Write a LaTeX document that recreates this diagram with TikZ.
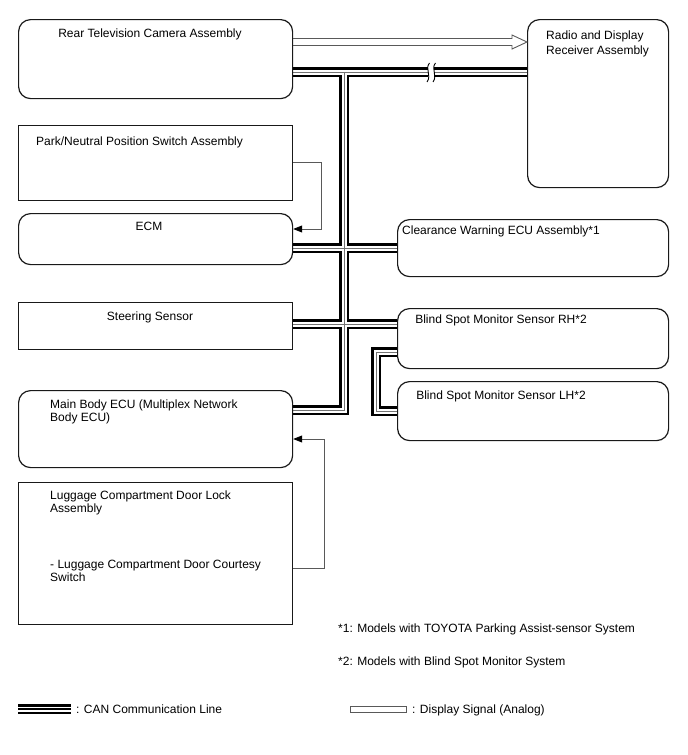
\documentclass[tikz,border=0pt]{standalone}
\usepackage{fontspec}
\setmainfont{Liberation Sans}
\usetikzlibrary{arrows.meta,calc,backgrounds}
\begin{document}
\begin{tikzpicture}[x=1pt,y=-1pt,
  box/.style={draw=black!90, line width=1.2pt, inner sep=0pt, anchor=north west},
  rbox/.style={box, rounded corners=12pt},
  lbl/.style={inner sep=0pt, font=\fontsize{12}{13.5}\selectfont, align=left},
  canA/.style={line width=10pt, black},
  canB/.style={line width=5pt, white},
  canC/.style={line width=1pt, black!55},
  sig/.style={draw=black!65, line width=0.9pt, -{Triangle[length=9pt,width=7pt,color=black]}},
  disp/.style={draw=black!65, line width=0.9pt, line join=miter}
]
\useasboundingbox (0,0) rectangle (688,755);

% boxes
\node[rbox, minimum width=274pt, minimum height=79pt]  (cam)   at (18,19)  {};
\node[rbox, minimum width=141pt, minimum height=168pt] (radio) at (527,19) {};
\node[box,  minimum width=274pt, minimum height=75pt]  (park)  at (18,125) {};
\node[rbox, minimum width=274pt, minimum height=51pt]  (ecm)   at (18,213) {};
\node[rbox, minimum width=271pt, minimum height=57pt]  (cw)    at (397,219) {};
\node[box,  minimum width=274pt, minimum height=47pt]  (ss)    at (18,302) {};
\node[rbox, minimum width=271pt, minimum height=60pt]  (bsr)   at (397,308) {};
\node[rbox, minimum width=271pt, minimum height=59pt]  (bsl)   at (397,381) {};
\node[rbox, minimum width=274pt, minimum height=77pt]  (mb)    at (18,390) {};
\node[box,  minimum width=274pt, minimum height=142pt] (lug)   at (18,482) {};

% texts (base anchor = baseline of the last line)
\node[lbl, anchor=base] (tcam) at (150,37.5) {Rear Television Camera Assembly};
\node[lbl, anchor=base west] (tradio) at (546,54.5) {Radio and Display\\[1.5pt]Receiver Assembly};
\node[lbl, anchor=base west] (tpark) at (36,145) {Park/Neutral Position Switch Assembly};
\node[lbl, anchor=base] (tecm) at (149,230.5) {ECM};
\node[lbl, anchor=base] (tcw) at (501,234.5) {Clearance Warning ECU Assembly*1};
\node[lbl, anchor=base] (tss) at (150,320.5) {Steering Sensor};
\node[lbl, anchor=base] (tbsr) at (501,323) {Blind Spot Monitor Sensor RH*2};
\node[lbl, anchor=base] (tbsl) at (501,399) {Blind Spot Monitor Sensor LH*2};
\node[lbl, anchor=base west] (tmb) at (50,421.5) {Main Body ECU (Multiplex Network\\Body ECU)};
\node[lbl, anchor=base west] (tlug1) at (50,512.5) {Luggage Compartment Door Lock\\Assembly};
\node[lbl, anchor=base west] (tlug2) at (50,581.5) {- Luggage Compartment Door Courtesy\\Switch};
\node[lbl, anchor=base west] (tn1) at (338,632.5) {*1: Models with TOYOTA Parking Assist-sensor System};
\node[lbl, anchor=base west] (tn2) at (338,665.5) {*2: Models with Blind Spot Monitor System};
\node[lbl, anchor=base west] (tlg1) at (76,713.5) {: CAN Communication Line};
\node[lbl, anchor=base west] (tlg2) at (412,713.5) {: Display Signal (Analog)};

% bus coordinates
\coordinate (tj) at (344,72);
\coordinate (e1) at (344,248);
\coordinate (s1) at (344,324);
\coordinate (mj) at (344,410);
\coordinate (lp1) at (376,352);
\coordinate (lp2) at (376,411);
\coordinate (lgA) at (18,709);
\coordinate (lgB) at (71,709);

\newcommand\canpaths[1]{%
  \draw[#1] (cam.east |- tj) -- (radio.west |- tj);
  \draw[#1] (tj) -- (mj) -- (mb.east |- mj);
  \draw[#1] (ecm.east |- e1) -- (cw.west |- e1);
  \draw[#1] (ss.east |- s1) -- (bsr.west |- s1);
  \draw[#1] (bsr.west |- lp1) -- (lp1) -- (lp2) -- (bsl.west |- lp2);
}
\begin{pgfonlayer}{background}
  \canpaths{canA}
  \canpaths{canB}
  \canpaths{canC}
  % legend symbol
  \draw[canA] (lgA) -- (lgB);
  \draw[canB] (lgA) -- (lgB);
  \draw[line width=1.6pt, black] (lgA) -- (lgB);
  % break mark
  \fill[white] (427.5,66) rectangle (433.5,78);
  \draw[line width=0.9pt] (429.5,63) .. controls (424.5,69) and (432,75) .. (427,82);
  \draw[line width=0.9pt] (435.5,63) .. controls (430.5,69) and (438,75) .. (433,82);
\end{pgfonlayer}

% display signal arrow
\coordinate (d1) at (0,38.5);
\coordinate (d2) at (0,45.5);
\coordinate (dm) at (0,42);
\draw[disp] (cam.east |- d1) -- (512,38.5) -- (512,35) -- (radio.west |- dm) -- (512,49) -- (512,45.5) -- (cam.east |- d2);

% thin signal arrows
\coordinate (p1) at (321,162);
\coordinate (p2) at (321,229);
\draw[sig] (park.east |- p1) -- (p1) -- (p2) -- (ecm.east |- p2);
\coordinate (q1) at (324,568);
\coordinate (q2) at (324,439);
\draw[sig] (lug.east |- q1) -- (q1) -- (q2) -- (mb.east |- q2);

% legend display symbol
\node[draw=black!65, line width=0.9pt, minimum width=56pt, minimum height=6pt, inner sep=0pt, anchor=west] (lgd) at (350,709) {};
\end{tikzpicture}
\end{document}
